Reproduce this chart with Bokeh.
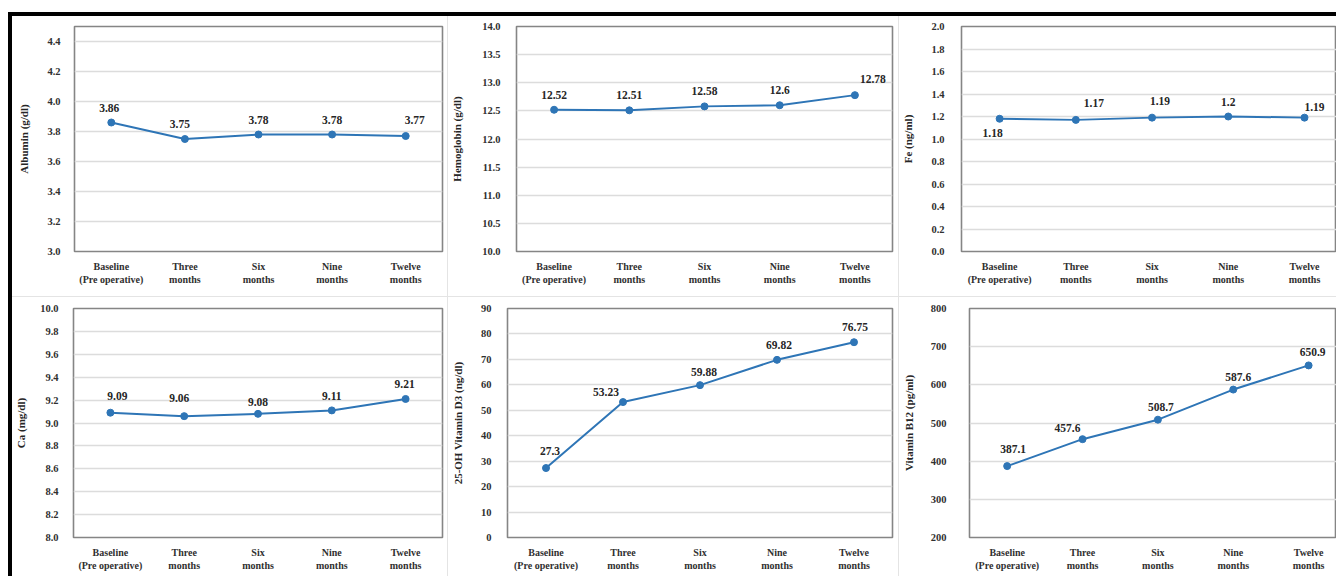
from bokeh.plotting import figure
from bokeh.layouts import row, column
from bokeh.models import Range1d, FixedTicker, NumeralTickFormatter, ColumnDataSource, Div
from bokeh.embed import file_html
from bokeh.resources import INLINE

# ---------------- data ----------------
categories = ["Baseline\n(Pre operative)", "Three\nmonths", "Six\nmonths", "Nine\nmonths", "Twelve\nmonths"]

albumin = [3.86, 3.75, 3.78, 3.78, 3.77]
hemoglobin = [12.52, 12.51, 12.58, 12.6, 12.78]
fe = [1.18, 1.17, 1.19, 1.2, 1.19]
ca = [9.09, 9.06, 9.08, 9.11, 9.21]
vitamin_d3 = [27.3, 53.23, 59.88, 69.82, 76.75]
vitamin_b12 = [387.1, 457.6, 508.7, 587.6, 650.9]

albumin_ticks = [3.0, 3.2, 3.4, 3.6, 3.8, 4.0, 4.2, 4.4]
hemoglobin_ticks = [10.0, 10.5, 11.0, 11.5, 12.0, 12.5, 13.0, 13.5, 14.0]
fe_ticks = [0.0, 0.2, 0.4, 0.6, 0.8, 1.0, 1.2, 1.4, 1.6, 1.8, 2.0]
ca_ticks = [8.0, 8.2, 8.4, 8.6, 8.8, 9.0, 9.2, 9.4, 9.6, 9.8, 10.0]
vitamin_d3_ticks = [0, 10, 20, 30, 40, 50, 60, 70, 80, 90]
vitamin_b12_ticks = [200, 300, 400, 500, 600, 700, 800]

# ---------------- style / layout ----------------
BLUE = "#2E75B6"
FONT = "Liberation Serif"
SEP = "#e4e4e4"

# label offsets (pixels, screen coords) for each data label
off_albumin = [(-2, -15), (-5, -15), (0, -15), (0, -15), (9, -16)]
off_hemoglobin = [(0, -15), (0, -15), (0, -15), (0, -15), (18, -16)]
off_fe = [(-7, 14), (18, -17), (8, -17), (0, -15), (10, -11)]
off_ca = [(7, -17), (-5, -18), (0, -12), (0, -14), (-1, -15)]
off_d3 = [(4, -17), (-17, -10), (4, -13), (2, -15), (1, -15)]
off_b12 = [(6, -17), (-15, -11), (3, -13), (5, -13), (4, -13)]


def panel(vals, ylabel, yr, ticks, fmt, w, h, bl, br, bt, bb, xend, offs,
          lab_standoff, tick_standoff):
    p = figure(width=w, height=h, output_backend="svg", toolbar_location=None,
               x_range=Range1d(0.5, xend), y_range=Range1d(*yr),
               min_border_left=bl, min_border_right=br, min_border_top=bt,
               min_border_bottom=bb, background_fill_color="white",
               border_fill_color="white")
    p.outline_line_color = "#858585"
    p.outline_line_width = 1.6
    p.xgrid.grid_line_color = None
    p.ygrid.grid_line_color = "#dcdcdc"
    p.ygrid.grid_line_width = 1.6

    xs = [1, 2, 3, 4, 5]
    src = ColumnDataSource(dict(
        x=xs, y=vals, t=[str(v) for v in vals],
        dx=[o[0] for o in offs], dy=[o[1] for o in offs]))
    p.line("x", "y", source=src, line_color=BLUE, line_width=2)
    p.scatter("x", "y", source=src, size=7, fill_color=BLUE, line_color=BLUE)
    p.text("x", "y", text="t", source=src, x_offset="dx", y_offset="dy",
           text_align="center", text_baseline="middle",
           text_font=FONT, text_font_style="bold", text_font_size="11.5px",
           text_color="#262626")

    xa = p.xaxis[0]
    xa.ticker = FixedTicker(ticks=xs)
    xa.major_label_overrides = {i + 1: c for i, c in enumerate(categories)}
    xa.major_label_text_font = FONT
    xa.major_label_text_font_style = "bold"
    xa.major_label_text_font_size = "10px"
    xa.major_label_text_color = "#303030"
    xa.major_label_standoff = 3
    xa.major_tick_line_color = None
    xa.minor_tick_line_color = None
    xa.axis_line_color = None

    ya = p.yaxis[0]
    ya.ticker = FixedTicker(ticks=ticks)
    ya.formatter = NumeralTickFormatter(format=fmt)
    ya.major_label_text_font = FONT
    ya.major_label_text_font_style = "bold"
    ya.major_label_text_font_size = "10.5px"
    ya.major_label_text_color = "#303030"
    ya.major_label_standoff = tick_standoff
    ya.major_tick_line_color = None
    ya.minor_tick_line_color = None
    ya.axis_line_color = None
    ya.axis_label = ylabel
    ya.axis_label_text_font = FONT
    ya.axis_label_text_font_style = "bold"
    ya.axis_label_text_font_size = "11px"
    ya.axis_label_text_color = "#262626"
    ya.axis_label_standoff = lab_standoff
    return p


TOP_H = 280
BOT_H = 279
W1, W2, W3 = 435, 450, 437

p1 = panel(albumin, "Albumin (g/dl)", (3.0, 4.5), albumin_ticks, "0.0",
           W1, TOP_H, 62, 5, 8, 45, 5.5, off_albumin, 14, 8)
p2 = panel(hemoglobin, "Hemoglobin (g/dl)", (10.0, 14.0), hemoglobin_ticks, "0.0",
           W2, TOP_H, 65, 6, 9, 44, 5.5, off_hemoglobin, 16, 10)
p3 = panel(fe, "Fe (ng/ml)", (0.0, 2.0), fe_ticks, "0.0",
           W3, TOP_H, 58, 0, 10, 44, 5.42, off_fe, 14, 11)
p4 = panel(ca, "Ca (mg/dl)", (8.0, 10.0), ca_ticks, "0.0",
           W1, BOT_H, 53, 5, 11, 38, 5.5, off_ca, 10, 9)
p5 = panel(vitamin_d3, "25-OH Vitamin D3 (ng/dl)", (0, 90), vitamin_d3_ticks, "0",
           W2, BOT_H, 55, 6, 8, 39, 5.5, off_d3, 14, 10)
p6 = panel(vitamin_b12, "Vitamin B12 (pg/ml)", (200, 800), vitamin_b12_ticks, "0",
           W3, BOT_H, 69, 0, 11, 38, 5.37, off_b12, 13, 17)


def box(w, h, color):
    return Div(text="", width=w, height=h, margin=0,
               styles={"background-color": color})


GRID_W = W1 + 1 + W2 + 1 + W3
top = row(p1, box(1, TOP_H, SEP), p2, box(1, TOP_H, SEP), p3, spacing=0)
bot = row(p4, box(1, BOT_H, SEP), p5, box(1, BOT_H, SEP), p6, spacing=0)
grid = column(top, box(GRID_W, 1, SEP), bot, spacing=0)
GRID_H = TOP_H + 1 + BOT_H
inner = column(box(GRID_W + 4, 12, "white"), box(GRID_W + 4, 4, "black"),
               row(box(4, GRID_H, "black"), grid, spacing=0), spacing=0)
page = row(box(8, GRID_H + 16, "white"), inner, spacing=0)

open("out.html", "w").write(file_html(page, INLINE))
